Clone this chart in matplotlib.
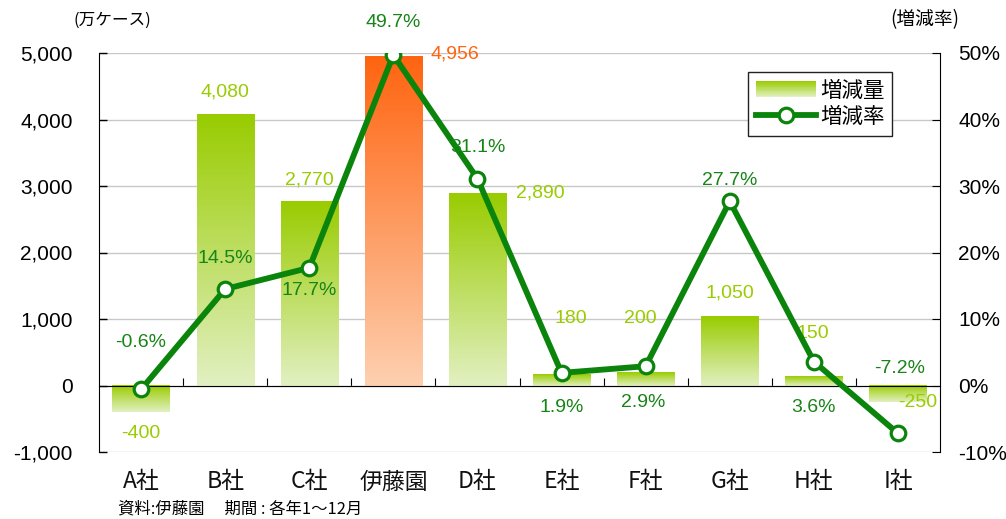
import numpy as np
import matplotlib
matplotlib.use("Agg")
import matplotlib.pyplot as plt
from matplotlib.colors import LinearSegmentedColormap, to_rgb
from matplotlib.legend_handler import HandlerBase
from matplotlib.patches import Rectangle
from matplotlib.lines import Line2D

plt.rcParams['font.family'] = ['Liberation Sans', 'Noto Sans CJK JP', 'DejaVu Sans']

# ---- data ----
categories = ["A社", "B社", "C社", "伊藤園", "D社", "E社", "F社", "G社", "H社", "I社"]
volume_change = [-400, 4080, 2770, 4956, 2890, 180, 200, 1050, 150, -250]
rate_change = [-0.6, 14.5, 17.7, 49.7, 31.1, 1.9, 2.9, 27.7, 3.6, -7.2]
left_ticks = [-1000, 0, 1000, 2000, 3000, 4000, 5000]
right_ticks = [-10, 0, 10, 20, 30, 40, 50]
highlight = "伊藤園"

# label offsets in pixels (dx, dy)
bar_label_off = [(0, -21), (0, 22), (0, 21), (62, 2), (63, 0), (9, 55), (-5, 54), (0, 23), (-1, 42), (20, 0)]
rate_label_off = [(0, 47), (0, 31), (0, -23), (0, 32), (0, 31), (0, -35), (-2, -36), (0, 21), (0, -46), (2, 65)]

GREEN_TOP = "#99cc00"
GREEN_BOT = "#e2f0c2"
ORANGE_TOP = "#ff6410"
ORANGE_BOT = "#fdd0b0"
LINE_COLOR = "#0a840a"
RATE_TXT = "#178417"

fig = plt.figure(figsize=(10.06, 5.19), dpi=100)
ax = fig.add_axes([99 / 1006, 1 - 452 / 519, 841 / 1006, 399 / 519])
ax2 = ax.twinx()

x = np.arange(len(categories))
ax.set_xlim(-0.5, len(categories) - 0.5)
ax.set_ylim(-1000, 5000)
ax2.set_ylim(-10, 50)

bw = 0.68
grad = np.linspace(0, 1, 256).reshape(-1, 1)
for i, (xi, v, c) in enumerate(zip(x, volume_change, categories)):
    top, bot = (ORANGE_TOP, ORANGE_BOT) if c == highlight else (GREEN_TOP, GREEN_BOT)
    cmap = LinearSegmentedColormap.from_list("g", [top, bot])
    y_hi, y_lo = max(v, 0), min(v, 0)
    # gradient from top edge (saturated) to bottom edge (pale)
    ax.imshow(grad, cmap=cmap, aspect='auto', origin='upper',
              extent=(xi - bw / 2, xi + bw / 2, y_lo, y_hi), zorder=2, interpolation='bilinear')
    col = ORANGE_TOP if c == highlight else GREEN_TOP
    ax.annotate(f"{v:,}", (xi, v), xytext=bar_label_off[i], textcoords='offset pixels',
                ha='center', va='center', fontsize=14, color=col, zorder=6)

ax.set_xlim(-0.5, len(categories) - 0.5)
ax.set_ylim(-1000, 5000)

# grid
ax.set_yticks(left_ticks)
ax.set_yticklabels([f"{t:,}" for t in left_ticks], fontsize=15)
ax.yaxis.grid(True, color="#c8c8c8", linewidth=1)
ax.set_axisbelow(True)
ax.tick_params(axis='y', direction='in', length=6, width=1, pad=19)

# x axis at zero
ax.spines['bottom'].set_position(('data', 0))
ax.spines['top'].set_visible(False)
ax.spines['right'].set_visible(False)
ax.set_xticks(np.arange(0.5, len(categories) - 0.5, 1))
ax.tick_params(axis='x', direction='in', length=6, labelbottom=False)
for xi, c in zip(x, categories):
    ax.text(xi, -0.075, c, transform=ax.get_xaxis_transform(), ha='center', va='center',
            fontsize=16.5, family=['Noto Sans CJK JP', 'DejaVu Sans'], color='#111111')

# rate line
ax2.plot(x, rate_change, color=LINE_COLOR, linewidth=4.2, marker='o', markersize=10.5,
         markerfacecolor='white', markeredgecolor=LINE_COLOR, markeredgewidth=2.3, zorder=5,
         solid_capstyle='round')
for i, (xi, r) in enumerate(zip(x, rate_change)):
    ax2.annotate(f"{r:.1f}%", (xi, r), xytext=rate_label_off[i], textcoords='offset pixels',
                 ha='center', va='center', fontsize=14, color=RATE_TXT, zorder=6)
ax2.set_yticks(right_ticks)
ax2.set_yticklabels([f"{t}%" for t in right_ticks], fontsize=15)
ax2.tick_params(axis='y', direction='in', length=6, pad=13)
ax2.spines['top'].set_visible(False)
ax2.spines['bottom'].set_visible(False)
ax2.spines['left'].set_visible(False)
ax2.set_zorder(ax.get_zorder() + 1)
ax2.patch.set_visible(False)

# unit labels
fig.text(112 / 1006, 1 - 20 / 519, "(万ケース)", ha='center', va='center', fontsize=12,
         family=['Noto Sans CJK JP', 'DejaVu Sans'])
fig.text(925 / 1006, 1 - 20 / 519, "(増減率)", ha='center', va='center', fontsize=13.5,
         family=['Noto Sans CJK JP', 'DejaVu Sans'])
fig.text(118 / 1006, 1 - 509 / 519, "資料:伊藤園　 期間 : 各年1～12月", ha='left', va='center',
         fontsize=11.8, family=['Noto Sans CJK JP', 'DejaVu Sans'])


class GradientHandler(HandlerBase):
    def create_artists(self, legend, orig_handle, xdescent, ydescent, width, height, fontsize, trans):
        n = 20
        c1, c2 = np.array(to_rgb(GREEN_TOP)), np.array(to_rgb(GREEN_BOT))
        arts = []
        for k in range(n):
            f = k / (n - 1)
            col = c1 * (1 - f) + c2 * f
            y0 = -ydescent + height * (1 - (k + 1) / n)
            r = Rectangle((-xdescent, y0), width, height / n + 0.05, facecolor=col,
                          edgecolor='none', transform=trans)
            arts.append(r)
        return arts


bar_handle = Rectangle((0, 0), 1, 1, facecolor=GREEN_TOP)
line_handle = Line2D([], [], color=LINE_COLOR, linewidth=4.2, marker='o', markersize=10.5,
                     markerfacecolor='white', markeredgecolor=LINE_COLOR, markeredgewidth=2.3)
leg = ax2.legend([bar_handle, line_handle], ["増減量", "増減率"],
                 handler_map={Rectangle: GradientHandler()},
                 loc='upper left', bbox_to_anchor=((748 - 99) / 841, (452 - 72) / 399),
                 prop={'family': ['Noto Sans CJK JP', 'DejaVu Sans'], 'size': 15.5},
                 frameon=True, fancybox=False, edgecolor='#222222', framealpha=1,
                 handlelength=2.8, handleheight=0.8, labelspacing=0.22, borderpad=0.35,
                 handletextpad=0.2, borderaxespad=0)
leg.get_frame().set_linewidth(1)

fig.savefig("out.png", dpi=100)
